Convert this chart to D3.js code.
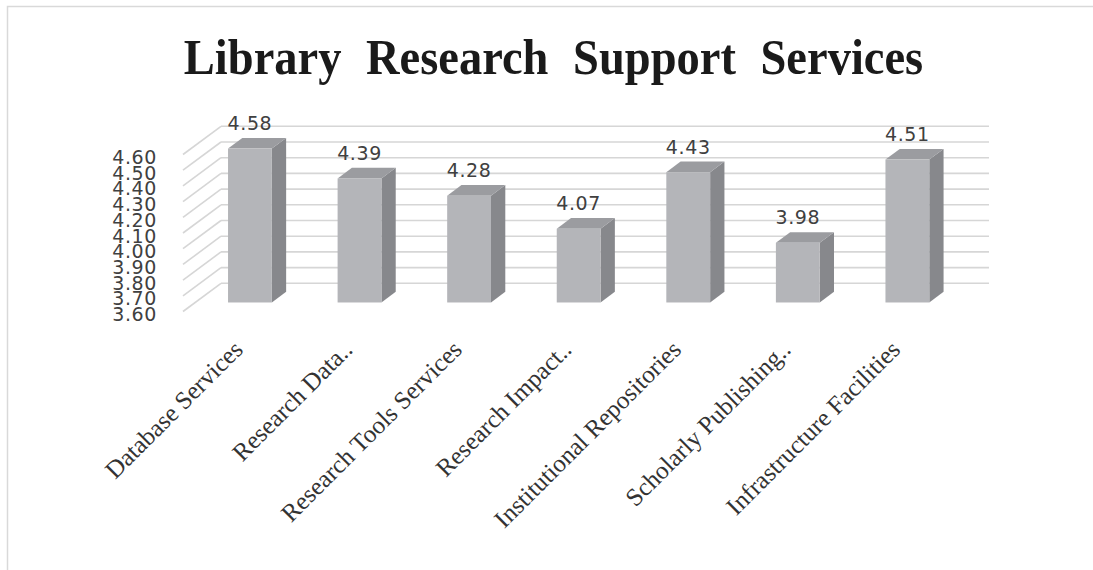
<!DOCTYPE html>
<html>
<head>
<meta charset="utf-8">
<script src="https://cdn.jsdelivr.net/npm/d3@7/dist/d3.min.js"></script>
<style>
  html, body { margin: 0; padding: 0; background: #ffffff; }
  svg { display: block; }
</style>
</head>
<body>
<svg id="chart" width="1093" height="570"></svg>
<script>
const titleText = "Library Research Support Services";
const categories = [
  "Database Services",
  "Research Data..",
  "Research Tools Services",
  "Research Impact..",
  "Institutional Repositories",
  "Scholarly Publishing..",
  "Infrastructure Facilities"
];
const values = [4.58, 4.39, 4.28, 4.07, 4.43, 3.98, 4.51];
const yTicks = [3.60, 3.70, 3.80, 3.90, 4.00, 4.10, 4.20, 4.30, 4.40, 4.50, 4.60];

const W = 1093, H = 570;
const svg = d3.select("#chart");

// 3D geometry: front plane + depth vector to back wall
const DX = 38, DY = -28.2;
const barFront = 0.32, barDepth = 0.376;

const x = d3.scaleBand().domain(categories).range([183, 950]).padding(0);
const y = d3.scaleLinear().domain([3.6, 4.6]).range([311.5, 154.5]);
const barW = x.step() * 0.4;

// border
svg.append("rect")
  .attr("x", 7.5).attr("y", 6.5)
  .attr("width", W).attr("height", H)
  .attr("fill", "none").attr("stroke", "#d9d9d9").attr("stroke-width", 1.5);

// title
svg.append("text")
  .attr("transform", "translate(553.5,73.5) scale(0.93,1)")
  .attr("text-anchor", "middle")
  .attr("font-family", "'Liberation Serif', 'Times New Roman', serif")
  .attr("font-weight", "bold")
  .attr("font-size", 50)
  .attr("word-spacing", 14)
  .attr("fill", "#1a1a1a")
  .text(titleText);

// gridlines (side wall diagonals + back wall)
const grid = svg.append("g").attr("stroke", "#d6d6d6").attr("stroke-width", 1.6).attr("fill", "none");
const x0 = x.range()[0], x1 = x.range()[1];
yTicks.forEach(t => {
  grid.append("line")
    .attr("x1", x0).attr("y1", y(t))
    .attr("x2", x0 + DX).attr("y2", y(t) + DY);
  grid.append("line")
    .attr("x1", x0 + DX).attr("y1", y(t) + DY)
    .attr("x2", x1 + DX + 1).attr("y2", y(t) + DY);
});

// y tick labels
svg.append("g").selectAll("text").data(yTicks).join("text")
  .attr("x", 157)
  .attr("y", d => y(d) + 9.5)
  .attr("text-anchor", "end")
  .attr("font-family", "'DejaVu Sans', Verdana, sans-serif")
  .attr("font-size", 19)
  .attr("letter-spacing", 0.6)
  .attr("fill", "#404040")
  .text(d => d.toFixed(2));

// bars
const ddx = DX * barDepth, ddy = DY * barDepth;
const bars = svg.append("g");
categories.forEach((c, i) => {
  const v = values[i];
  const cx = x(c) + x.step() / 2 + DX * barFront;
  const xl = cx - barW / 2, xr = cx + barW / 2;
  const yt = y(v) + DY * barFront;
  const yb = y(3.6) + DY * barFront;
  const g = bars.append("g");
  // side face
  g.append("polygon")
    .attr("points", [[xr, yt], [xr + ddx, yt + ddy], [xr + ddx, yb + ddy], [xr, yb]].map(p => p.join(",")).join(" "))
    .attr("fill", "#87888c");
  // top face
  g.append("polygon")
    .attr("points", [[xl, yt], [xl + ddx, yt + ddy], [xr + ddx, yt + ddy], [xr, yt]].map(p => p.join(",")).join(" "))
    .attr("fill", "#9b9ca0");
  // front face
  g.append("rect")
    .attr("x", xl).attr("y", yt)
    .attr("width", barW).attr("height", yb - yt)
    .attr("fill", "#b4b5b9");
  // data label
  g.append("text")
    .attr("x", cx)
    .attr("y", yt + ddy - 8)
    .attr("text-anchor", "middle")
    .attr("font-family", "'DejaVu Sans', Verdana, sans-serif")
    .attr("font-size", 19)
    .attr("letter-spacing", 0.6)
    .attr("fill", "#404040")
    .text(v.toFixed(2));
});

// category labels
svg.append("g").selectAll("text").data(categories).join("text")
  .attr("transform", d => `translate(${x(d) + x.step() / 2 + 6.5},351) rotate(-45)`)
  .attr("text-anchor", "end")
  .attr("font-family", "'Liberation Serif', 'Times New Roman', serif")
  .attr("font-size", 25)
  .attr("fill", "#333333")
  .text(d => d);
</script>
</body>
</html>
